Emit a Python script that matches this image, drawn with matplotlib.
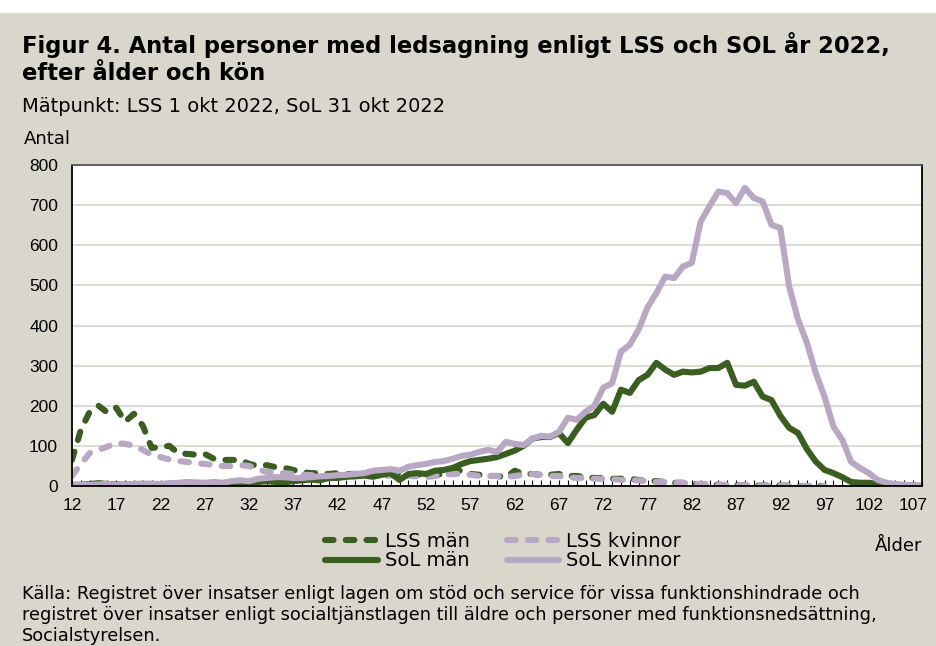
import matplotlib
matplotlib.use("Agg")
import matplotlib.pyplot as plt
from matplotlib.lines import Line2D
from matplotlib.patches import Rectangle
import numpy as np

# ── Data ──────────────────────────────────────────────────────────────────────
ages = list(range(12, 109))
nan = np.nan

lss_man = [65, 140, 185, 200, 183, 195, 160, 180, 150, 95,
           97, 100, 82, 80, 78, 80, 68, 65, 65, 65,
           55, 50, 52, 47, 45, 40, 35, 32, 32, 30,
           32, 30, 30, 32, 30, 30, 32, 30, 28, 28,
           30, 28, 30, 32, 40, 30, 28, 25, 25, 22,
           38, 30, 30, 28, 28, 30, 25, 25, 22, 20,
           20, 18, 18, 18, 15, 12, 12, 10, 8, 8,
           5, 5, 3, 3, 2, 2, 2, 1, 1, 1,
           1, 1, 0, 0, 0, 0, nan, nan, nan, nan,
           nan, nan, nan, nan, nan, nan, nan]
lss_kvinnor = [25, 55, 82, 90, 98, 107, 105, 100, 90, 78,
               72, 66, 62, 60, 57, 55, 52, 50, 50, 52,
               50, 42, 35, 33, 32, 30, 28, 27, 26, 25,
               25, 25, 26, 26, 25, 25, 26, 27, 25, 24,
               22, 25, 28, 30, 30, 28, 25, 25, 25, 22,
               25, 28, 30, 28, 25, 25, 22, 20, 20, 18,
               18, 17, 15, 15, 14, 12, 10, 10, 8, 8,
               6, 5, 4, 3, 3, 2, 2, 2, 1, 1,
               1, 1, 0, 0, 0, 0, nan, nan, nan, nan,
               nan, nan, nan, nan, nan, nan, nan]
sol_man = [3, 3, 5, 7, 5, 4, 3, 5, 5, 3,
           3, 5, 5, 3, 4, 6, 8, 7, 8, 6,
           7, 10, 12, 10, 9, 12, 14, 16, 14, 20,
           20, 23, 24, 26, 23, 28, 32, 15, 30, 32,
           30, 38, 40, 45, 55, 62, 65, 68, 72, 80,
           88, 100, 118, 122, 122, 132, 107, 140, 170, 177,
           205, 185, 240, 232, 264, 277, 307, 290, 277, 285,
           283, 285, 294, 294, 307, 252, 250, 260, 223, 214,
           175, 145, 132, 92, 61, 40, 32, 22, 10, 8,
           8, 5, 4, 3, 2, 1, 0]
sol_kvinnor = [2, 3, 3, 4, 5, 3, 4, 5, 6, 6,
               5, 7, 8, 10, 9, 8, 10, 8, 12, 14,
               12, 18, 20, 22, 22, 20, 20, 22, 24, 25,
               27, 28, 30, 32, 38, 40, 42, 38, 48, 52,
               55, 60, 62, 68, 75, 78, 85, 90, 85, 110,
               105, 102, 118, 125, 123, 135, 170, 165, 185, 200,
               245, 256, 335, 352, 390, 445, 481, 522, 518, 547,
               556, 659, 697, 734, 730, 705, 743, 718, 709, 651,
               643, 497, 415, 357, 282, 222, 148, 115, 60, 45,
               32, 15, 8, 5, 3, 2, 1]

y_ticks = [0, 100, 200, 300, 400, 500, 600, 700, 800]
x_labels = list(range(12, 108, 5))

# ── Style ─────────────────────────────────────────────────────────────────────
BG = "#D9D7CB"
GREEN = "#3A5E20"
LILAC = "#B8A8C4"
GRID = "#DEDCD2"
WIDE = ["DejaVu Sans"]
plt.rcParams["font.family"] = ["Liberation Sans", "DejaVu Sans"]

fig = plt.figure(figsize=(9.36, 6.46), dpi=100, facecolor=BG)
fig.patches.append(Rectangle((0, 1 - 12 / 646), 1, 12 / 646, transform=fig.transFigure,
                             color="white", zorder=-1))

ax = fig.add_axes([72 / 936, 1 - 486 / 646, 850 / 936, 321 / 646])
ax.set_facecolor("white")

dash = (1.4, 2.0)
LW = 4.4
ax.plot(ages, lss_man, color=GREEN, lw=LW, ls=(0, dash), dash_capstyle="round",
        label="LSS män")
ax.plot(ages, lss_kvinnor, color=LILAC, lw=LW, ls=(0, dash), dash_capstyle="round",
        label="LSS kvinnor")
ax.plot(ages, sol_man, color=GREEN, lw=LW, solid_capstyle="round", label="SoL män")
ax.plot(ages, sol_kvinnor, color=LILAC, lw=LW, solid_capstyle="round", label="SoL kvinnor")

ax.set_xlim(12, 108)
ax.set_ylim(0, 800)
ax.set_yticks(y_ticks)
ax.grid(axis="y", color=GRID, lw=1.5)
ax.set_axisbelow(True)
ax.tick_params(axis="y", length=0, labelsize=12.5, pad=10)
ax.set_xticks(ages)
ax.set_xticklabels([str(a) if a in x_labels else "" for a in ages])
ax.tick_params(axis="x", direction="in", length=4, width=0.8, labelsize=12.5, pad=9)
for side in ["left", "bottom", "right"]:
    ax.spines[side].set_color("black")
    ax.spines[side].set_linewidth(1.3)
ax.spines["top"].set_color("#555555")
ax.spines["top"].set_linewidth(1.3)

# ── Texts ─────────────────────────────────────────────────────────────────────
fig.text(22 / 936, 1 - 45 / 646, "Figur 4. Antal personer med ledsagning enligt LSS och SOL år 2022,",
         family=WIDE, fontsize=16.3, fontweight="bold", va="center", ha="left")
fig.text(22 / 936, 1 - 74 / 646, "efter ålder och kön",
         family=WIDE, fontsize=16.3, fontweight="bold", va="center", ha="left")
fig.text(22 / 936, 1 - 107 / 646, "Mätpunkt: LSS 1 okt 2022, SoL 31 okt 2022",
         family=WIDE, fontsize=14, va="center", ha="left")
fig.text(24 / 936, 1 - 139 / 646, "Antal", family=WIDE, fontsize=13, va="center", ha="left")
fig.text(922 / 936, 1 - 546 / 646, "Ålder", family=WIDE, fontsize=13, va="center", ha="right")

source = ("Källa: Registret över insatser enligt lagen om stöd och service för vissa funktionshindrade och\n"
          "registret över insatser enligt socialtjänstlagen till äldre och personer med funktionsnedsättning,\n"
          "Socialstyrelsen.")
fig.text(22 / 936, 1 - 585 / 646, source, family=WIDE, fontsize=12.8, va="top", ha="left",
         linespacing=1.22)

# ── Legend ────────────────────────────────────────────────────────────────────
handles = [Line2D([], [], color=GREEN, lw=LW, ls=(0, dash), dash_capstyle="round"),
           Line2D([], [], color=GREEN, lw=LW, solid_capstyle="round"),
           Line2D([], [], color=LILAC, lw=LW, ls=(0, dash), dash_capstyle="round"),
           Line2D([], [], color=LILAC, lw=LW, solid_capstyle="round")]
labels = ["LSS män", "SoL män", "LSS kvinnor", "SoL kvinnor"]
fig.legend(handles, labels, ncol=2, frameon=False, prop={"family": WIDE, "size": 14},
           loc="center", bbox_to_anchor=(503 / 936, 1 - 551 / 646),
           handlelength=2.7, handletextpad=0.35, columnspacing=1.9,
           labelspacing=0.05)

fig.savefig("out.png", dpi=100, facecolor=BG)
